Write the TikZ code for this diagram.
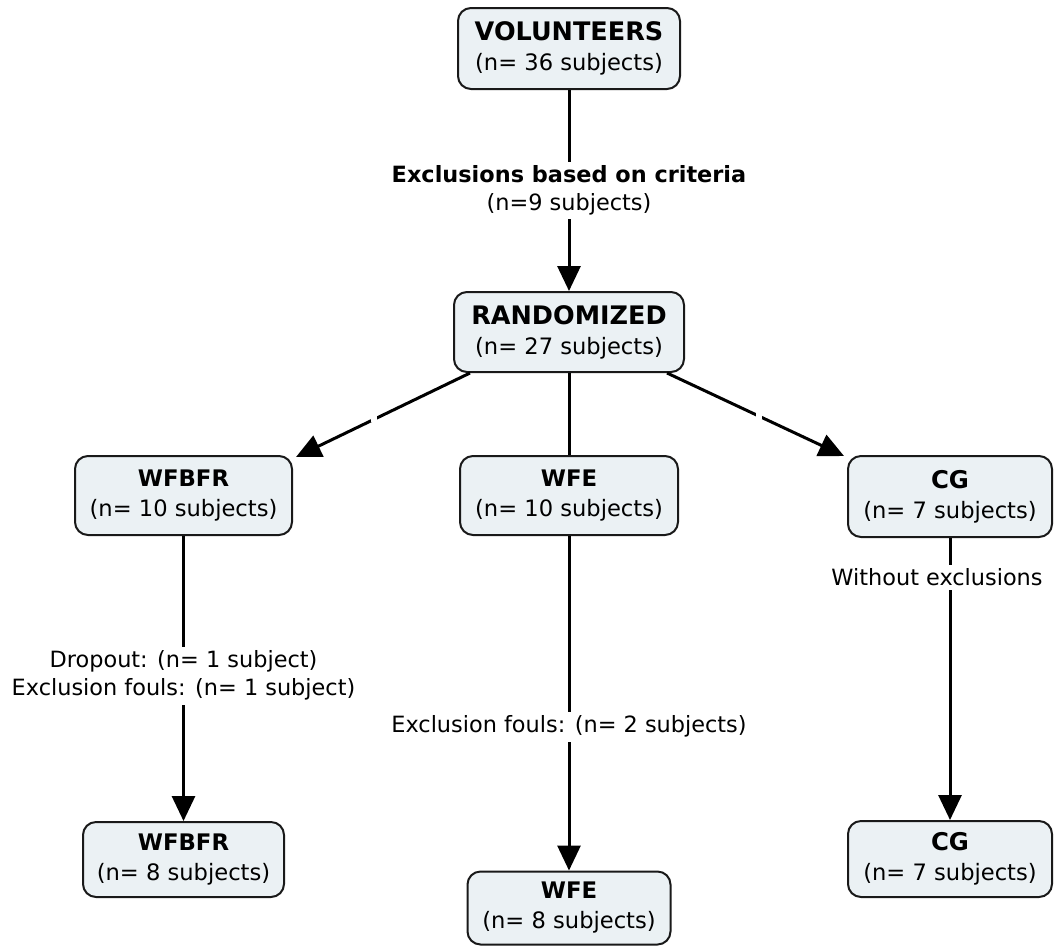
\documentclass[tikz,border=0pt]{standalone}
\usepackage{fontspec}
\setmainfont{DejaVu Sans}
\usetikzlibrary{arrows.meta, positioning}

\definecolor{conceptfill}{HTML}{EBF1F4}

\newcommand{\headA}[1]{{\fontsize{12.75}{15}\selectfont\bfseries #1}}
\newcommand{\headB}[1]{{\fontsize{11.4}{15}\selectfont\bfseries #1}}
\newcommand{\headC}[1]{{\fontsize{12.2}{15}\selectfont\bfseries #1}}

\begin{document}
\begin{tikzpicture}[x=1pt,y=1pt,on grid,
    concept/.style={draw=black!90, line width=1pt, fill=conceptfill, rounded corners=6.5pt,
        align=center, inner sep=0pt, font=\fontsize{11.3}{15}\selectfont},
    linkphrase/.style={fill=white, align=center, inner sep=2pt, font=\fontsize{11.2}{14}\selectfont},
    gapmark/.style={fill=white, inner sep=1.5pt},
    every edge/.style={draw, line width=1.5pt},
    >={Triangle[length=12.5pt,width=11.5pt]}]

        \useasboundingbox (0,0) rectangle (529.5,-474.5);

        \node[concept, minimum width=111pt, minimum height=40.5pt]   (vol)     at (284.5,-24.25)            {\headA{VOLUNTEERS}\\(n= 36 subjects)};
        \node[concept, minimum width=115pt, minimum height=40pt]     (rand)    [below=141.75pt of vol]      {\headA{RANDOMIZED}\\(n= 27 subjects)};
        \node[concept, minimum width=109pt, minimum height=39.5pt]   (wfe)     [below=81.75pt of rand]      {\headB{WFE}\\(n= 10 subjects)};
        \node[concept, minimum width=108.5pt, minimum height=39.5pt] (wfbfr)   [left=192.75pt of wfe]       {\headB{WFBFR}\\(n= 10 subjects)};
        \node[concept, minimum width=102pt, minimum height=40.5pt]   (cg)      [right=190.5pt of wfe, yshift=-0.5pt] {\headC{CG}\\(n= 7 subjects)};
        \node[concept, minimum width=100.5pt, minimum height=37.5pt] (wfbfr_2) [below=182pt of wfbfr]       {\headB{WFBFR}\\(n= 8 subjects)};
        \node[concept, minimum width=101.5pt, minimum height=36.5pt] (wfe_2)   [below=206.25pt of wfe]      {\headB{WFE}\\(n= 8 subjects)};
        \node[concept, minimum width=102pt, minimum height=38pt]     (cg_2)    [below=181.25pt of cg]       {\headC{CG}\\(n= 7 subjects)};

        \path[->]   (vol) edge node[linkphrase] {\textbf{Exclusions based on criteria}\\(n=9 subjects)} (rand)
        (wfbfr) edge node[linkphrase, pos=0.49] {Dropout: (n= 1 subject)\\Exclusion fouls: (n= 1 subject)} (wfbfr_2)
        (wfe) edge node[linkphrase, pos=0.57] {Exclusion fouls: (n= 2 subjects)} (wfe_2)
        (cg) edge node[linkphrase, pos=0.14, xshift=-6.5pt] {Without exclusions} (cg_2)
        ;

        \draw[line width=1.5pt] (rand) -- (wfe);
        \draw[->, line width=1.5pt] ([xshift=8.5pt]rand.south west) -- node[gapmark, pos=0.55] {} ([xshift=1.5pt,yshift=-1pt]wfbfr.north east);
        \draw[->, line width=1.5pt] ([xshift=-9pt]rand.south east) -- node[gapmark, pos=0.52] {} ([xshift=-1.5pt,yshift=-0.5pt]cg.north west);
    \end{tikzpicture}
\end{document}
